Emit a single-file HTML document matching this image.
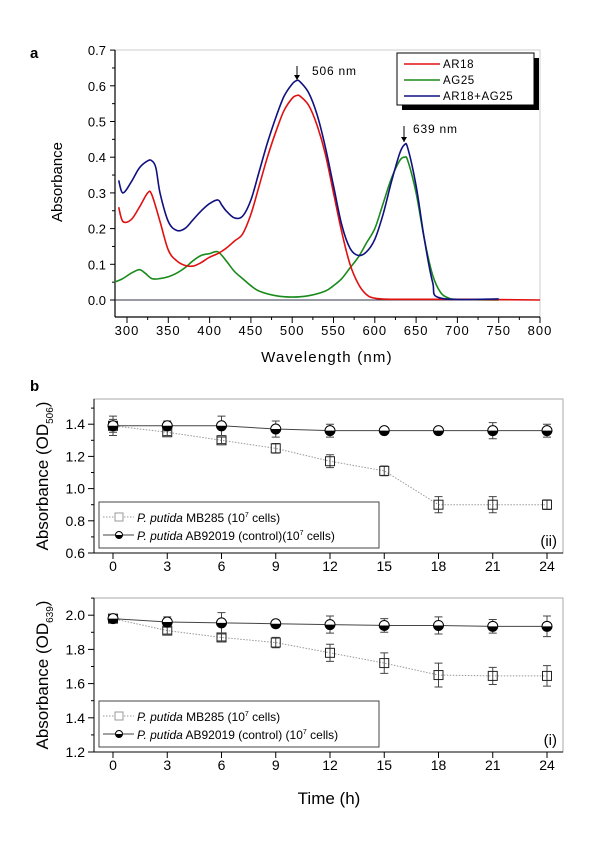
<!DOCTYPE html>
<html><head><meta charset="utf-8"><style>
body{margin:0;background:#fff;}
svg{display:block;font-family:"Liberation Sans",Arial,sans-serif;}
</style></head><body>
<svg id="fig" width="600" height="843" viewBox="0 0 600 843"></svg>
<script>
// ---------- Panel a data ----------
const arWl = [290,295,305,315,325,330,340,350,360,370,380,390,400,410,420,430,440,450,460,470,480,490,500,506,510,520,530,540,550,560,570,580,590,600,620,700,800];
const arAbs = [0.26,0.22,0.225,0.26,0.30,0.295,0.22,0.14,0.11,0.097,0.095,0.105,0.12,0.13,0.145,0.165,0.185,0.24,0.32,0.40,0.47,0.53,0.565,0.573,0.57,0.545,0.49,0.41,0.30,0.19,0.10,0.045,0.015,0.005,0.002,0.002,0.0];
const agWl = [285,295,305,315,322,330,340,350,360,370,380,390,400,410,420,430,440,450,460,480,500,520,540,550,560,570,580,590,600,610,620,630,636,640,650,660,670,680,690,700,750];
const agAbs = [0.05,0.06,0.075,0.085,0.075,0.06,0.06,0.065,0.075,0.09,0.11,0.125,0.13,0.135,0.11,0.08,0.06,0.04,0.025,0.012,0.008,0.012,0.025,0.04,0.06,0.09,0.12,0.16,0.20,0.27,0.34,0.39,0.40,0.39,0.30,0.17,0.07,0.02,0.005,0.002,0.0];
const mixWl = [290,295,305,315,325,330,335,340,350,360,370,380,390,400,410,415,420,430,440,450,460,470,480,490,500,506,510,520,530,540,550,560,570,580,590,600,610,620,630,636,640,650,660,670,680,750];
const mixAbs = [0.335,0.30,0.33,0.37,0.39,0.39,0.37,0.30,0.22,0.195,0.20,0.225,0.25,0.27,0.28,0.265,0.25,0.23,0.235,0.28,0.36,0.44,0.51,0.57,0.605,0.615,0.61,0.58,0.52,0.43,0.32,0.21,0.145,0.125,0.135,0.17,0.24,0.33,0.41,0.435,0.425,0.32,0.17,0.05,0.005,0.003];
const aXTicks = [300,350,400,450,500,550,600,650,700,750,800];
const aYTicks = [0.0,0.1,0.2,0.3,0.4,0.5,0.6,0.7];
// ---------- Panel b data ----------
const times = [0,3,6,9,12,15,18,21,24];
const mb506 = [1.39,1.35,1.30,1.25,1.17,1.11,0.90,0.90,0.90];
const mb506Err = [0.04,0.02,0.02,0.03,0.04,0.03,0.05,0.05,0.03];
const ctl506 = [1.39,1.39,1.39,1.37,1.36,1.36,1.36,1.36,1.36];
const ctl506Err = [0.06,0.03,0.06,0.05,0.04,0.01,0.01,0.05,0.04];
const mb639 = [1.98,1.91,1.87,1.84,1.78,1.72,1.65,1.645,1.645];
const mb639Err = [0.01,0.02,0.02,0.03,0.05,0.06,0.07,0.05,0.06];
const ctl639 = [1.98,1.96,1.955,1.95,1.945,1.94,1.94,1.935,1.935];
const ctl639Err = [0.01,0.03,0.06,0.02,0.05,0.04,0.05,0.04,0.06];
const y506Ticks = [0.6,0.8,1.0,1.2,1.4];
const y639Ticks = [1.2,1.4,1.6,1.8,2.0];

const NS="http://www.w3.org/2000/svg";
const svg=document.getElementById('fig');
function el(tag,attrs,parent){const e=document.createElementNS(NS,tag);for(const k in attrs)e.setAttribute(k,attrs[k]);(parent||svg).appendChild(e);return e;}
function txt(x,y,s,size,anchor,parent,extra){const t=el('text',Object.assign({x:x,y:y,'font-size':size,'text-anchor':anchor||'middle',fill:'#000'},extra||{}),parent);t.textContent=s;return t;}
function smoothPath(pts){let d='M'+pts[0][0].toFixed(1)+','+pts[0][1].toFixed(1);
 for(let i=0;i<pts.length-1;i++){const p0=pts[i-1]||pts[i],p1=pts[i],p2=pts[i+1],p3=pts[i+2]||p2;
  const c1=[p1[0]+(p2[0]-p0[0])/6,p1[1]+(p2[1]-p0[1])/6],c2=[p2[0]-(p3[0]-p1[0])/6,p2[1]-(p3[1]-p1[1])/6];
  d+='C'+c1.map(v=>v.toFixed(1)).join(',')+' '+c2.map(v=>v.toFixed(1)).join(',')+' '+p2.map(v=>v.toFixed(1)).join(',');}
 return d;}

// ===== Panel a =====
const ga=el('g',{});


const ax=w=>540-(800-w)*0.826;
const ay=v=>300-v*357;
el('rect',{x:115,y:50,width:425,height:267,fill:'none',stroke:'#ccc','stroke-width':1},ga);
el('line',{x1:115,y1:50,x2:115,y2:317,stroke:'#000','stroke-width':1.2},ga);
el('line',{x1:115,y1:317,x2:540,y2:317,stroke:'#000','stroke-width':1.2},ga);
aYTicks.forEach(v=>{el('line',{x1:110,y1:ay(v),x2:115,y2:ay(v),stroke:'#000'},ga);
 if(v<0.7)el('line',{x1:112,y1:ay(v+0.05),x2:115,y2:ay(v+0.05),stroke:'#000'},ga);
 const t=txt(106,ay(v)+5,v.toFixed(1),13,'end',ga);});
aXTicks.forEach(w=>{el('line',{x1:ax(w),y1:317,x2:ax(w),y2:323,stroke:'#000'},ga);
 if(w<800)el('line',{x1:ax(w+25),y1:317,x2:ax(w+25),y2:320,stroke:'#000'},ga);
 const t=txt(ax(w),335,String(w),13,'middle',ga,{'letter-spacing':'1'});});
const xt=txt(327,362,'Wavelength (nm)',15,'middle',ga,{'letter-spacing':'1.2'});

const yt=txt(0,0,'Absorbance',15,'middle',ga,{transform:'translate(62,182) rotate(-90)'});

const la=txt(30,58,'a',15,'start',ga,{'font-weight':'bold'});

el('line',{x1:115,y1:ay(0),x2:540,y2:ay(0),stroke:'#334',"stroke-width":1},ga);
function spectrum(wl,vals,color,name){const p=el('path',{d:smoothPath(wl.map((w,i)=>[ax(w),ay(vals[i])])),fill:'none',stroke:color,'stroke-width':1.6,'stroke-linejoin':'round'},ga);}
spectrum(agWl,agAbs,'#1a8a1a','line-ag25');
spectrum(arWl,arAbs,'#e01010','line-ar18');
spectrum(mixWl,mixAbs,'#101080','line-ar18-ag25');
// annotations
function arrow(x,y1,y2){el('line',{x1:x,y1:y1,x2:x,y2:y2,stroke:'#000'},ga);el('path',{d:`M${x-3},${y2-5}L${x},${y2}L${x+3},${y2-5}Z`,fill:'#000'},ga);}
arrow(297,66,80);arrow(404,126,142);
const a1=txt(312,75,'506 nm',12,'start',ga,{'letter-spacing':'0.8'});
const a2=txt(413,133,'639 nm',12,'start',ga,{'letter-spacing':'0.8'});
// legend
const lg=el('g',{},ga);
el('rect',{x:402,y:58,width:137,height:52,fill:'#000'},lg);
el('rect',{x:397,y:53,width:137,height:52,fill:'#fff',stroke:'#000'},lg);
[['AR18','#e01010'],['AG25','#1a8a1a'],['AR18+AG25','#101080']].forEach((e,i)=>{const y=64+i*16;
 const ge=el('g',{},lg);
 el('line',{x1:404,y1:y,x2:440,y2:y,stroke:e[1],'stroke-width':1.6},ge);txt(443,y+4,e[0],11.5,'start',ge,{'letter-spacing':'0.6'});});

// ===== Panel b =====
const bx=t=>113+t*(434/24);
function panelB(name,top,bottom,y0,pxPer,yTicks,mb,mbE,ct,ctE,ylabSub,legText2,tag,tagY){
 const g=el('g',{});
 const yy=v=>bottom-(v-y0)*pxPer;
 el('rect',{x:94,y:top,width:469,height:bottom-top,fill:'none',stroke:'#aaa'},g);
 el('line',{x1:94,y1:top,x2:94,y2:bottom,stroke:'#000'},g);
 el('line',{x1:94,y1:bottom,x2:563,y2:bottom,stroke:'#000'},g);
 yTicks.forEach(v=>{el('line',{x1:88,y1:yy(v),x2:94,y2:yy(v),stroke:'#000'},g);el('line',{x1:91,y1:yy(v+0.1),x2:94,y2:yy(v+0.1),stroke:'#000'},g);
  const t=txt(85,yy(v)+5,v.toFixed(1),14,'end',g);});
 times.forEach(t=>{el('line',{x1:bx(t),y1:bottom,x2:bx(t),y2:bottom+6,stroke:'#000'},g);
  const l=txt(bx(t),bottom+18,String(t),14,'middle',g);});
 const yl=el('text',{transform:`translate(48,${(top+bottom)/2}) rotate(-90)`,'font-size':17,'text-anchor':'middle',fill:'#000'},g);
 
 yl.innerHTML='Absorbance (OD<tspan font-size="10" dy="5">'+ylabSub+'</tspan><tspan dy="-5">)</tspan>';
 el('path',{d:times.map((t,i)=>(i?'L':'M')+bx(t)+','+yy(mb[i])).join(''),fill:'none',stroke:'#999','stroke-dasharray':'1.5,1.5'},g);
 el('path',{d:times.map((t,i)=>(i?'L':'M')+bx(t)+','+yy(ct[i])).join(''),fill:'none',stroke:'#444'},g);
 times.forEach((t,i)=>{const x=bx(t);
  const e1=el('g',{},g);
  el('path',{d:`M${x},${yy(mb[i]+mbE[i])}V${yy(mb[i]-mbE[i])}M${x-4},${yy(mb[i]+mbE[i])}h8M${x-4},${yy(mb[i]-mbE[i])}h8`,stroke:'#444',fill:'none'},e1);
  el('rect',{x:x-4.5,y:yy(mb[i])-4.5,width:9,height:9,fill:'none',stroke:'#222'},e1);
  const e2=el('g',{},g);
  el('path',{d:`M${x},${yy(ct[i]+ctE[i])}V${yy(ct[i]-ctE[i])}M${x-4},${yy(ct[i]+ctE[i])}h8M${x-4},${yy(ct[i]-ctE[i])}h8`,stroke:'#444',fill:'none'},e2);
  const cy=yy(ct[i]);el('circle',{cx:x,cy:cy,r:5,fill:'#fff',stroke:'#000'},e2);
  el('path',{d:`M${x-5},${cy}A5,5 0 0 0 ${x+5},${cy}Z`,fill:'#000'},e2);});
 const lt=bottom-51;
 const lg=el('g',{},g);
 el('rect',{x:99,y:lt,width:280,height:46,fill:'#fff',stroke:'#444'},lg);
 el('line',{x1:103,y1:lt+15,x2:134,y2:lt+15,stroke:'#999','stroke-dasharray':'1.5,1.5'},lg);
 el('rect',{x:115,y:lt+11,width:8,height:8,fill:'#fff',stroke:'#999'},lg);
 el('line',{x1:103,y1:lt+33,x2:134,y2:lt+33,stroke:'#444'},lg);
 el('circle',{cx:119,cy:lt+33,r:3.5,fill:'#fff',stroke:'#000'},lg);
 el('path',{d:`M115.5,${lt+33}A3.5,3.5 0 0 0 122.5,${lt+33}Z`,fill:'#000'},lg);
 const t1=el('text',{x:137,y:lt+20,'font-size':12,fill:'#000'},lg);t1.innerHTML='<tspan font-style="italic">P. putida</tspan> MB285 (10<tspan font-size="7" dy="-5">7</tspan><tspan dy="5"> cells)</tspan>';
 const t2=el('text',{x:137,y:lt+38,'font-size':12,fill:'#000'},lg);t2.innerHTML='<tspan font-style="italic">P. putida</tspan> '+legText2;
 const tg=txt(557,tagY,tag,15,'end',g);
}
panelB('panel-b-od506',399,553,0.6,161,y506Ticks,mb506,mb506Err,ctl506,ctl506Err,'506','AB92019 (control)(10<tspan font-size="7" dy="-5">7</tspan><tspan dy="5"> cells)</tspan>','(ii)',546);
panelB('panel-b-od639',598,752,1.2,171,y639Ticks,mb639,mb639Err,ctl639,ctl639Err,'639','AB92019 (control) (10<tspan font-size="7" dy="-5">7</tspan><tspan dy="5"> cells)</tspan>','(i)',745);
const lb=txt(30,391,'b',15,'start',null,{'font-weight':'bold'});
const tt=txt(329,804,'Time (h)',17,'middle');
</script>
</body></html>
